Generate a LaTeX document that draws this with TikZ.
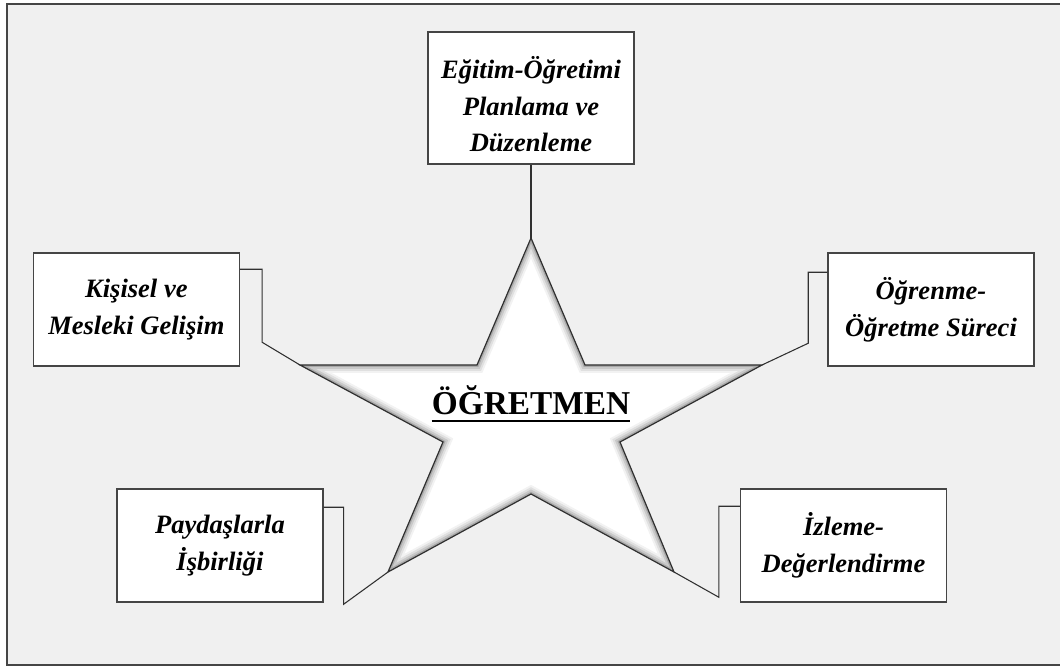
\documentclass[tikz,border=0pt]{standalone}
\usepackage{fontspec}
\setmainfont{Liberation Serif}
\usepackage{xcolor}
\usetikzlibrary{positioning}
\definecolor{panel}{HTML}{F0F0F0}
\definecolor{edge}{HTML}{454545}
\tikzstyle{frame} = [draw=edge, line width=1.2pt, fill=panel]
\tikzstyle{box} = [rectangle, minimum width=154.5pt, minimum height=84.75pt, text centered, align=center, draw=edge, line width=1.1pt, fill=white, font=\fontsize{19.9}{27.5}\selectfont\bfseries\itshape]
\tikzstyle{link} = [draw=edge!70!black, line width=0.8pt]
\tikzstyle{starline} = [draw=edge!70!black, line width=0.9pt]
\tikzset{starpath/.style={insert path={(tT) -- (iTR) -- (tR) -- (iR) -- (tBR) -- (iB) -- (tBL) -- (iL) -- (tL) -- (iTL) -- cycle}}}

\begin{document}
\begin{tikzpicture}[x=0.75pt, y=-0.75pt]
    \useasboundingbox (0,0) rectangle (1060,666);
    \draw[frame] (7,4) rectangle (1075,665);
    \coordinate (c) at (531,422);
    \coordinate (tT) at (531,238);
    \coordinate (iTR) at (585,365);
    \coordinate (tR) at (762,365);
    \coordinate (iR) at (620,442);
    \coordinate (tBR) at (674,572);
    \coordinate (iB) at (531,494);
    \coordinate (tBL) at (388,572);
    \coordinate (iL) at (443,442);
    \coordinate (tL) at (300,365);
    \coordinate (iTL) at (477,365);
    \fill[white, starpath];
    \begin{scope}
        \clip[starpath];
        \foreach \w/\o in {12/0.05, 9/0.07, 6/0.1, 3/0.16}
            \draw[black, opacity=\o, line width=\w pt, starpath];
    \end{scope}
    \draw[starline, starpath];
    \node (title) [anchor=base, inner sep=0pt, yshift=5.25pt, font=\fontsize{25}{30}\selectfont\bfseries] at (c) {ÖĞRETMEN};
    \draw[line width=1.5pt] ([yshift=-4.5pt]title.base west) -- ([yshift=-4.5pt]title.base east);
    \node (plan) [box, minimum height=99pt, node distance=243pt, above of=c]{\rule{0pt}{26pt}Eğitim-Öğretimi\\Planlama ve\\Düzenleme};
    \node (kisisel) [box, node distance=296pt, left of=c, yshift=84.4pt]{Kişisel ve\\Mesleki Gelişim};
    \node (ogrenme) [box, node distance=300pt, right of=c, yshift=84.4pt]{Öğrenme-\\Öğretme Süreci};
    \node (paydas) [box, node distance=233.3pt, left of=c, yshift=-92.6pt]{Paydaşlarla\\İşbirliği};
    \node (izleme) [box, node distance=234.4pt, right of=c, yshift=-92.6pt]{İzleme-\\Değerlendirme};
    \draw[link] (plan.south) -- (tT);
    \draw[link] ([shift={(0,17)}]kisisel.north east) -- ++(22,0) -- ++(0,73) -- (tL);
    \draw[link] ([shift={(0,20)}]ogrenme.north west) -- ++(-19,0) -- ++(0,71) -- (tR);
    \draw[link] ([shift={(0,19)}]paydas.north east) -- ++(20,0) -- ++(0,97) -- (tBL);
    \draw[link] ([shift={(0,18)}]izleme.north west) -- ++(-21,0) -- ++(0,91) -- (tBR);
\end{tikzpicture}
\end{document}
